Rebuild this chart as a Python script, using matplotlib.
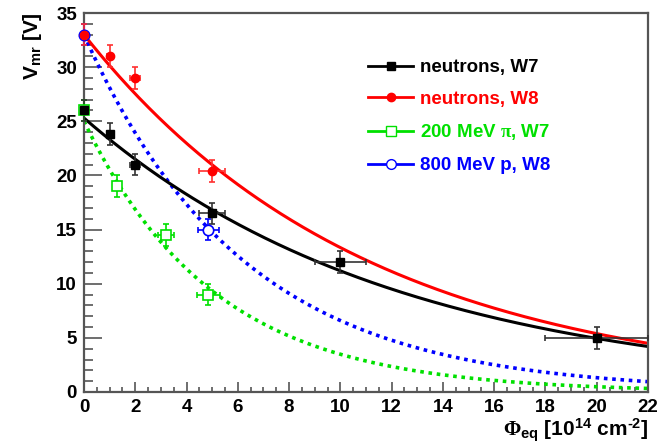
import numpy as np
import matplotlib
matplotlib.use('Agg')
import matplotlib.pyplot as plt
from matplotlib.ticker import MultipleLocator

plt.rcParams['font.family'] = ['Liberation Sans', 'DejaVu Sans']
plt.rcParams['font.weight'] = 'bold'
plt.rcParams['mathtext.fontset'] = 'custom'
plt.rcParams['mathtext.rm'] = 'Liberation Serif'
plt.rcParams['mathtext.it'] = 'Liberation Serif'
plt.rcParams['mathtext.bf'] = 'Liberation Sans:bold'

# data (fluence in 1e14 cm^-2, voltage in V)
n_w7_x = [0, 1, 2, 5, 10, 20]
n_w7_y = [26, 23.8, 21, 16.5, 12, 5]
n_w7_xerr = [0.05, 0.1, 0.2, 0.5, 1, 2]
n_w7_yerr = [1, 1, 1, 1, 1, 1]

n_w8_x = [0, 1, 2, 5]
n_w8_y = [33, 31, 29, 20.4]
n_w8_xerr = [0.05, 0.1, 0.2, 0.5]
n_w8_yerr = [1, 1, 1, 1]

pi_w7_x = [0, 1.3, 3.2, 4.85]
pi_w7_y = [26, 19, 14.5, 9]
pi_w7_xerr = [0.05, 0.13, 0.3, 0.45]
pi_w7_yerr = [1, 1, 1, 1]

p_w8_x = [0, 4.85]
p_w8_y = [33, 15]
p_w8_xerr = [0.05, 0.4]
p_w8_yerr = [1, 1]

# exponential fit parameters V = A * exp(-b * phi)
fit_amp = {'n_w7': 25.3, 'n_w8': 33.0, 'pi_w7': 25.0, 'p_w8': 33.0}
fit_rate = {'n_w7': 0.0816, 'n_w8': 0.0906, 'pi_w7': 0.197, 'p_w8': 0.161}

GREEN = '#00e000'

fig = plt.figure(figsize=(6.62, 4.45), dpi=100)
ax = fig.add_axes([84/662, 1 - 392/445, 564/662, 379/445])

phi = np.linspace(0, 22, 400)

def fit_curve(key):
    return fit_amp[key] * np.exp(-fit_rate[key] * phi)

ax.plot(phi, fit_curve('pi_w7'), color=GREEN, lw=2.6, ls=(0, (1, 1.3)), zorder=2)
ax.plot(phi, fit_curve('p_w8'), color='#0000ff', lw=2.6, ls=(0, (1, 1.3)), zorder=2)
ax.plot(phi, fit_curve('n_w8'), color='#ff0000', lw=2.2, zorder=2)
ax.plot(phi, fit_curve('n_w7'), color='black', lw=2.2, zorder=2)

ekw = dict(ls='none', elinewidth=1.2, capsize=2.5, capthick=1.2, zorder=3)

def points(x, y, xe, ye, **kw):
    cont = ax.errorbar(x, y, xerr=xe, yerr=ye, **ekw, **kw)
    for art in cont.get_children():
        art.set_clip_on(False)

points(pi_w7_x, pi_w7_y, pi_w7_xerr, pi_w7_yerr, marker='s', ms=7.5,
       mfc='white', mec=GREEN, mew=1.2, color=GREEN, ecolor=GREEN)
points(p_w8_x, p_w8_y, p_w8_xerr, p_w8_yerr, marker='o', ms=7.5,
       mfc='white', mec='#0000ff', mew=1.2, color='#0000ff', ecolor='#0000ff')
points(n_w8_x, n_w8_y, n_w8_xerr, n_w8_yerr, marker='o', ms=6,
       color='#ff0000', ecolor='#ff3030')
points(n_w7_x, n_w7_y, n_w7_xerr, n_w7_yerr, marker='s', ms=5.8,
       color='black', ecolor='#333333')

ax.set_xlim(0, 22)
ax.set_ylim(0, 35)
ax.xaxis.set_major_locator(MultipleLocator(2))
ax.xaxis.set_minor_locator(MultipleLocator(0.5))
ax.yaxis.set_major_locator(MultipleLocator(5))
ax.yaxis.set_minor_locator(MultipleLocator(1))
ax.tick_params(which='both', direction='in', top=False, right=False,
               color='#555555', width=1.2, labelsize=13.5)
ax.tick_params(axis='x', which='major', length=7.5, pad=5)
ax.tick_params(axis='x', which='minor', length=3.8)
ax.tick_params(axis='y', which='major', length=13, pad=5)
ax.tick_params(axis='y', which='minor', length=6.5)
for lab in ax.get_xticklabels() + ax.get_yticklabels():
    lab.set_fontweight('bold')
for sp in ax.spines.values():
    sp.set_color('#555555')
    sp.set_linewidth(1.6)

# legend
names = ['neutrons, W7', 'neutrons, W8', r'200 MeV $\pi$, W7', '800 MeV p, W8']
colors = ['black', '#ff0000', GREEN, '#0000ff']
handles = [
    plt.Line2D([], [], color='black', lw=2, marker='s', ms=6),
    plt.Line2D([], [], color='#ff0000', lw=2, marker='o', ms=6),
    plt.Line2D([], [], color=GREEN, lw=2, marker='s', ms=7, mfc='white'),
    plt.Line2D([], [], color='#0000ff', lw=2, marker='o', ms=7, mfc='white'),
]
leg = ax.legend(handles, names, loc='upper left', bbox_to_anchor=(284/564, 1 - 46/379),
                frameon=False, fontsize=13.5, handlelength=2.4, handletextpad=0.4,
                labelspacing=0.78, borderaxespad=0, borderpad=0)
for t, c in zip(leg.get_texts(), colors):
    t.set_color(c)
    t.set_fontweight('bold')

xlabel = (r'$\Phi_{\mathbf{eq}}$ [10$^{\mathbf{14}}$ cm$^{\mathbf{' + '\u2010'
          + r'2}}$]')
fig.text(32/662, 1 - 12/445, r'V$_{\mathbf{mr}}$ [V]', rotation=90, ha='center', va='top',
         fontsize=15, fontweight='bold')
fig.text(648/662, 1 - 430/445, xlabel, ha='right', va='center', fontsize=15,
         fontweight='bold')

fig.savefig('out.png', dpi=100)
